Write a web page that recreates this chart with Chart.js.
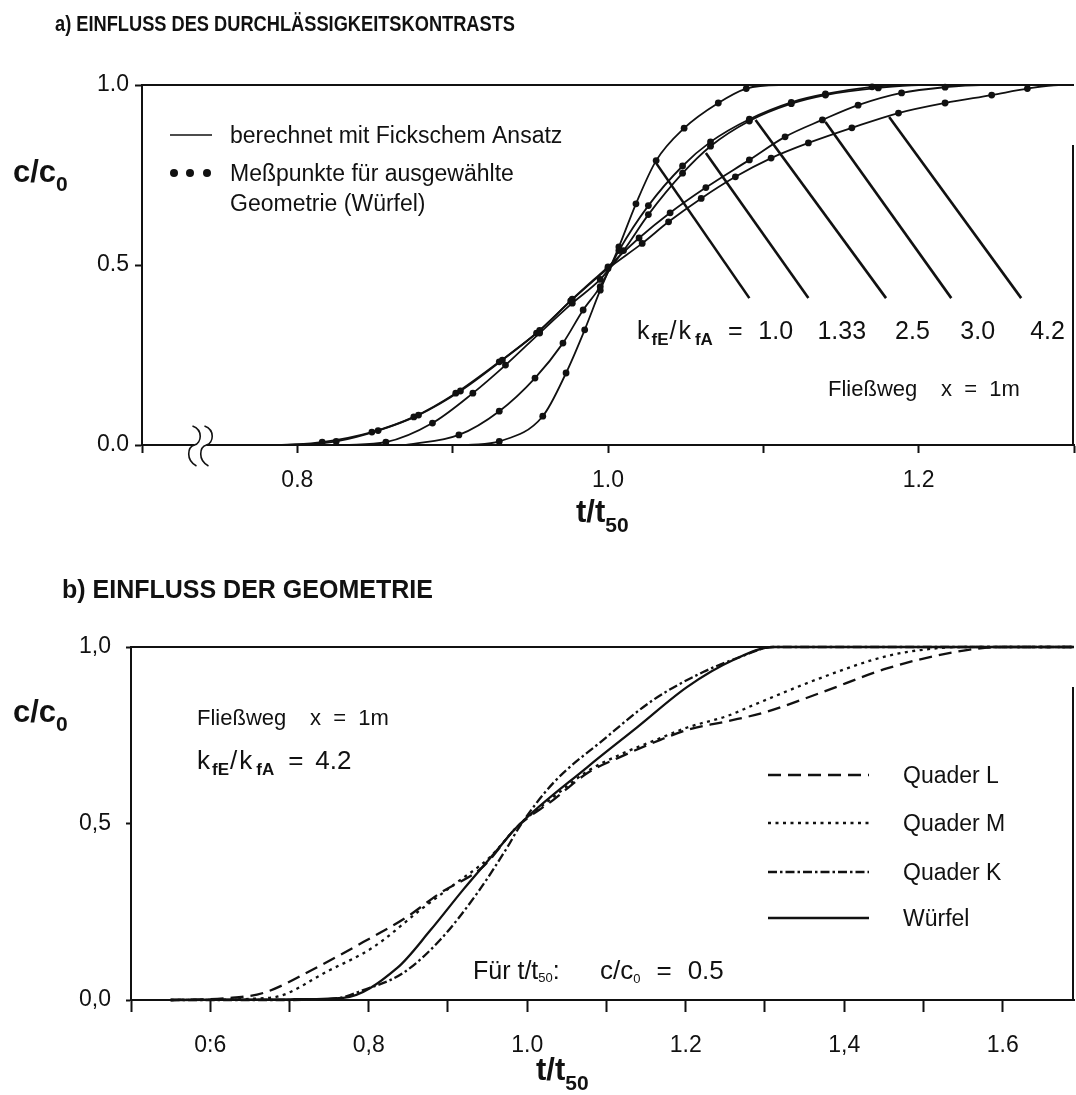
<!DOCTYPE html>
<html>
<head>
<meta charset="utf-8">
<title>Durchbruchskurven</title>
<script src="https://cdn.jsdelivr.net/npm/chart.js@4.4.1/dist/chart.umd.min.js"></script>
<style>
  html, body { margin: 0; padding: 0; background: #fff; overflow: hidden; }
  .feld { position: absolute; left: 0; width: 1076px; }
  #feldA { top: 0; height: 545px; }
  #feldB { top: 545px; height: 550px; }
</style>
</head>
<body>
<div class="feld" id="feldA"><canvas id="chartA"></canvas></div>
<div class="feld" id="feldB"><canvas id="chartB"></canvas></div>
<script>
// a) Einfluss des Durchlässigkeitskontrasts: [t/t50, c/c0]
const verhaeltnis = ['1.0', '1.33', '2.5', '3.0', '4.2']
const kurve10 = [[0.91, 0], [0.93, 0.01], [0.958, 0.08], [0.973, 0.2], [0.985, 0.32], [0.995, 0.43], [1.007, 0.55], [1.018, 0.67], [1.031, 0.79], [1.049, 0.88], [1.071, 0.95], [1.089, 0.99], [1.11, 1], [1.3, 1]]
const kurve133 = [[0.87, 0], [0.904, 0.028], [0.93, 0.094], [0.953, 0.186], [0.971, 0.283], [0.984, 0.375], [0.995, 0.44], [1.007, 0.54], [1.026, 0.665], [1.048, 0.775], [1.066, 0.842], [1.091, 0.905], [1.118, 0.952], [1.14, 0.975], [1.17, 0.995], [1.19, 1], [1.3, 1]]
const kurve25 = [[0.83, 0], [0.857, 0.008], [0.887, 0.061], [0.913, 0.144], [0.934, 0.222], [0.956, 0.311], [0.977, 0.394], [0.995, 0.46], [1.01, 0.54], [1.026, 0.64], [1.048, 0.755], [1.066, 0.83], [1.091, 0.9], [1.118, 0.948], [1.14, 0.972], [1.174, 0.992], [1.2, 1], [1.3, 1]]
const kurve30 = [[0.8, 0], [0.825, 0.01], [0.852, 0.04], [0.878, 0.083], [0.905, 0.15], [0.932, 0.236], [0.956, 0.318], [0.977, 0.405], [1.0, 0.495], [1.02, 0.575], [1.04, 0.645], [1.063, 0.715], [1.091, 0.792], [1.114, 0.856], [1.138, 0.903], [1.161, 0.944], [1.189, 0.978], [1.217, 0.994], [1.24, 1], [1.3, 1]]
const kurve42 = [[0.79, 0], [0.816, 0.008], [0.848, 0.036], [0.875, 0.078], [0.902, 0.144], [0.93, 0.231], [0.954, 0.311], [0.976, 0.4], [1.0, 0.49], [1.022, 0.56], [1.039, 0.62], [1.06, 0.685], [1.082, 0.745], [1.105, 0.797], [1.129, 0.839], [1.157, 0.881], [1.187, 0.922], [1.217, 0.95], [1.247, 0.972], [1.27, 0.99], [1.29, 1], [1.3, 1]]
// Zeigerlinien von der Kurve zur Beschriftung
const zeigerStart = [[1.031, 0.783], [1.063, 0.811], [1.095, 0.903], [1.14, 0.897], [1.181, 0.911]]
const zeigerEnde = [[1.091, 0.408], [1.129, 0.408], [1.179, 0.408], [1.221, 0.408], [1.266, 0.408]]
const tickA = { '0.8': '0.8', '1.0': '1.0', '1.2': '1.2' }
const tickAy = { '0.0': '0.0', '0.5': '0.5', '1.0': '1.0' }

// b) Einfluss der Geometrie (kfE/kfA = 4.2)
const geometrie = ['Quader L', 'Quader M', 'Quader K', 'Würfel']
const quaderL = [[0.55, 0], [0.62, 0.005], [0.667, 0.02], [0.735, 0.093], [0.793, 0.164], [0.848, 0.235], [0.89, 0.303], [0.944, 0.377], [0.987, 0.49], [1.033, 0.567], [1.076, 0.643], [1.117, 0.688], [1.168, 0.737], [1.202, 0.765], [1.253, 0.79], [1.3, 0.815], [1.37, 0.87], [1.455, 0.94], [1.538, 0.985], [1.6, 1], [1.69, 1]]
const quaderM = [[0.55, 0], [0.675, 0.006], [0.751, 0.085], [0.806, 0.15], [0.865, 0.255], [0.907, 0.326], [0.953, 0.405], [0.987, 0.49], [1.033, 0.575], [1.076, 0.648], [1.117, 0.695], [1.168, 0.742], [1.202, 0.772], [1.253, 0.805], [1.285, 0.835], [1.37, 0.912], [1.455, 0.975], [1.52, 0.997], [1.56, 1], [1.69, 1]]
const quaderK = [[0.55, 0], [0.7, 0], [0.76, 0.005], [0.793, 0.028], [0.843, 0.076], [0.89, 0.17], [0.937, 0.303], [0.975, 0.433], [0.99, 0.49], [1.033, 0.615], [1.096, 0.737], [1.159, 0.85], [1.222, 0.929], [1.269, 0.972], [1.31, 1], [1.69, 1]]
const wuerfel = [[0.55, 0], [0.7, 0.002], [0.768, 0.006], [0.836, 0.091], [0.878, 0.198], [0.919, 0.312], [0.962, 0.425], [0.987, 0.49], [1.076, 0.66], [1.139, 0.773], [1.202, 0.887], [1.26, 0.963], [1.311, 1], [1.69, 1]]
const strichmuster = [[13, 7], [3, 4.5], [9, 3, 2.5, 3], []]
const tickB = { '0.6': '0:6', '0.8': '0,8', '1.0': '1.0', '1.2': '1.2', '1.4': '1,4', '1.6': '1.6' }
const tickBy = { '0.0': '0,0', '0.5': '0,5', '1.0': '1,0' }

const schrift = '"Liberation Sans", Arial, Helvetica, sans-serif'
const schwarz = '#111'

const punkte = paare => paare.map(([x, y]) => ({ x, y }))

const text = (ctx, str, x, y, size, bold, maxWidth) => {
    ctx.font = (bold ? 'bold ' : '') + size + 'px ' + schrift
    if (maxWidth) ctx.fillText(str, x, y, maxWidth)
    else ctx.fillText(str, x, y)
    return x + Math.min(ctx.measureText(str).width, maxWidth || Infinity)
}

// mehrere Stücke hintereinander: [text, größe, fett, tiefer, abstand davor]
const textTeile = (ctx, teile, x, y) => {
    teile.forEach(([str, size, bold, dy, dx]) => {
        x = text(ctx, str, x + (dx || 0), y + (dy || 0), size, bold)
    })
    return x
}

const achse = (min, max, step, labels, tick, extra) => ({
    type: 'linear',
    min, max,
    ticks: {
        stepSize: step,
        autoSkip: false,
        includeBounds: tick.raender,
        maxRotation: 0,
        padding: tick.padding,
        color: schwarz,
        font: { family: schrift, size: 23 },
        callback: v => labels[v.toFixed(1)] || ''
    },
    grid: { drawOnChartArea: false, drawTicks: true, tickLength: tick.laenge, tickColor: schwarz, tickWidth: 2 },
    border: { display: true, color: schwarz, width: 2 },
    ...extra
})

// feste Achsenmaße, ohne Zusatzrand rechts
const festeHoehe = h => s => {
    s.height = h
    s.paddingRight = 0
}

const rahmen = (ctx, ca, rechtsAb) => {
    ctx.strokeStyle = schwarz
    ctx.lineWidth = 2
    ctx.beginPath()
    ctx.moveTo(ca.left, ca.top)
    ctx.lineTo(ca.right, ca.top)
    ctx.moveTo(ca.right - 1, ca.top + rechtsAb)
    ctx.lineTo(ca.right - 1, ca.bottom)
    ctx.stroke()
}

const beschriftungA = {
    id: 'beschriftungA',
    afterDraw(chart) {
        const { ctx, chartArea: ca, scales: { x, y } } = chart
        ctx.save()
        ctx.fillStyle = schwarz
        ctx.textAlign = 'left'
        ctx.textBaseline = 'alphabetic'
        rahmen(ctx, ca, 60)

        // Achsenbruch
        const bx = x.getPixelForValue(0.737)
        ctx.fillStyle = '#fff'
        ctx.fillRect(bx - 5, ca.bottom - 3, 12, 6)
        ctx.lineWidth = 1.6
        ;[bx - 5, bx + 7].forEach(sx => {
            ctx.beginPath()
            ctx.moveTo(sx - 2, ca.bottom - 19)
            ctx.bezierCurveTo(sx + 9, ca.bottom - 15, sx + 7, ca.bottom - 2, sx, ca.bottom)
            ctx.bezierCurveTo(sx - 7, ca.bottom + 2, sx - 9, ca.bottom + 15, sx + 2, ca.bottom + 21)
            ctx.stroke()
        })
        ctx.fillStyle = schwarz

        text(ctx, 'a) EINFLUSS DES DURCHLÄSSIGKEITSKONTRASTS', 55, 31, 22, true, 460)
        textTeile(ctx, [['c/c', 31, true], ['0', 21, true, 9]], 13, 182)
        textTeile(ctx, [['t/t', 31, true], ['50', 21, true, 10]], 576, 522)

        // Legende
        ctx.lineWidth = 1.5
        ctx.beginPath()
        ctx.moveTo(170, 135)
        ctx.lineTo(212, 135)
        ctx.stroke()
        ;[174, 190, 207].forEach(px => {
            ctx.beginPath()
            ctx.arc(px, 173, 4, 0, Math.PI * 2)
            ctx.fill()
        })
        text(ctx, 'berechnet mit Fickschem Ansatz', 230, 143, 23)
        text(ctx, 'Meßpunkte für ausgewählte', 230, 181, 23)
        text(ctx, 'Geometrie (Würfel)', 230, 211, 23)

        // kfE/kfA-Werte an den Zeigerlinien
        const ziffern = zeigerEnde.map(([zx, zy]) => [x.getPixelForValue(zx) + 9, y.getPixelForValue(zy) + 41])
        textTeile(ctx, [['k', 25], ['fE', 17, true, 6, 2], ['/', 25, false, 0, 1], ['k', 25, false, 0, 2], ['fA', 17, true, 6, 4], ['=', 25, false, 0, 15]], 637, ziffern[0][1])
        verhaeltnis.forEach((v, i) => text(ctx, v, ziffern[i][0], ziffern[i][1], 25))

        text(ctx, 'Fließweg', 828, 396, 22)
        text(ctx, 'x  =  1m', 941, 396, 22)
        ctx.restore()
    }
}

const beschriftungB = {
    id: 'beschriftungB',
    afterDraw(chart) {
        const { ctx, chartArea: ca } = chart
        ctx.save()
        ctx.fillStyle = schwarz
        ctx.textAlign = 'left'
        ctx.textBaseline = 'alphabetic'
        rahmen(ctx, ca, 40)

        text(ctx, 'b) EINFLUSS DER GEOMETRIE', 62, 53, 25, true)
        textTeile(ctx, [['c/c', 31, true], ['0', 21, true, 9]], 13, 177)
        textTeile(ctx, [['t/t', 31, true], ['50', 21, true, 10]], 536, 535)

        text(ctx, 'Fließweg', 197, 180, 22)
        text(ctx, 'x  =  1m', 310, 180, 22)
        textTeile(ctx, [['k', 26], ['fE', 17, true, 6, 2], ['/', 26, false, 0, 1], ['k', 26, false, 0, 2], ['fA', 17, true, 6, 4], ['=', 26, false, 0, 14], ['4.2', 26, false, 0, 12]], 197, 224)
        textTeile(ctx, [['Für t/t', 25], ['50', 13, false, 3], [':', 25]], 473, 434)
        textTeile(ctx, [['c/c', 26], ['0', 13, false, 4], ['=', 26, false, 0, 16], ['0.5', 26, false, 0, 16]], 600, 434)

        // Legende mit den Linienstilen der Datensätze
        const zeilen = [230, 278, 327, 373]
        chart.data.datasets.forEach((ds, i) => {
            ctx.strokeStyle = schwarz
            ctx.lineWidth = 2.5
            ctx.setLineDash(ds.borderDash)
            ctx.beginPath()
            ctx.moveTo(768, zeilen[i])
            ctx.lineTo(869, zeilen[i])
            ctx.stroke()
            ctx.setLineDash([])
            text(ctx, ds.label, 903, zeilen[i] + 8, 23)
        })
        ctx.restore()
    }
}

const datasetsA = [kurve10, kurve133, kurve25, kurve30, kurve42].map((kurve, i) => ({
    label: 'kfE/kfA = ' + verhaeltnis[i],
    data: punkte(kurve),
    borderColor: schwarz,
    borderWidth: 1.8,
    backgroundColor: schwarz,
    pointRadius: c => (c.raw && c.raw.y > 0 && c.raw.y < 1) ? 3.4 : 0,
    pointBorderWidth: 0,
    cubicInterpolationMode: 'monotone',
    clip: 4
}))
zeigerStart.forEach((s, i) => {
    datasetsA.push({
        label: 'Zeiger ' + verhaeltnis[i],
        data: punkte([s, zeigerEnde[i]]),
        borderColor: schwarz,
        borderWidth: 2.6,
        pointRadius: 0,
        tension: 0
    })
})

new Chart(document.getElementById('chartA'), {
    type: 'line',
    data: { datasets: datasetsA },
    options: {
        responsive: true,
        maintainAspectRatio: false,
        animation: false,
        events: [],
        layout: { padding: { top: 85, right: 2, left: 0, bottom: 0 } },
        plugins: { legend: { display: false }, tooltip: { enabled: false } },
        scales: {
            x: achse(0.7, 1.3, 0.1, tickA, { laenge: 8, padding: 14, raender: true }, { afterFit: festeHoehe(100) }),
            y: achse(0, 1, 0.5, tickAy, { laenge: 7, padding: 6, raender: true }, { afterFit: s => { s.width = 142 } })
        }
    },
    plugins: [beschriftungA]
})

new Chart(document.getElementById('chartB'), {
    type: 'line',
    data: {
        datasets: [quaderL, quaderM, quaderK, wuerfel].map((kurve, i) => ({
            label: geometrie[i],
            data: punkte(kurve),
            borderColor: schwarz,
            borderWidth: 2.3,
            borderDash: strichmuster[i],
            pointRadius: 0,
            cubicInterpolationMode: 'monotone',
            clip: 4
        }))
    },
    options: {
        responsive: true,
        maintainAspectRatio: false,
        animation: false,
        events: [],
        layout: { padding: { top: 102, right: 2, left: 0, bottom: 0 } },
        plugins: { legend: { display: false }, tooltip: { enabled: false } },
        scales: {
            x: achse(0.5, 1.69, 0.1, tickB, { laenge: 12, padding: 20, raender: false }, { afterFit: festeHoehe(95) }),
            y: achse(0, 1, 0.5, tickBy, { laenge: 5, padding: 15, raender: true }, { afterFit: s => { s.width = 131 } })
        }
    },
    plugins: [beschriftungB]
})
</script>
</body>
</html>
